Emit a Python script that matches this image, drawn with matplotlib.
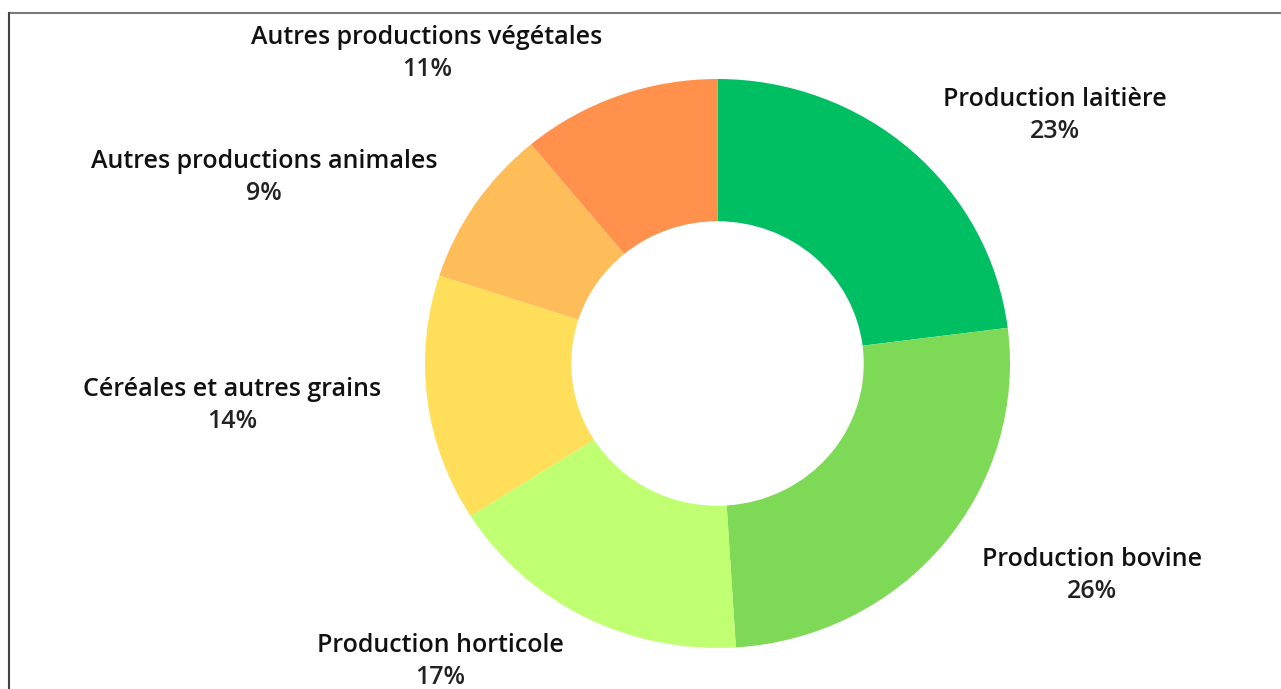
import matplotlib
matplotlib.use("Agg")
import matplotlib.pyplot as plt
from matplotlib.lines import Line2D

categories = ["Production laitière", "Production bovine", "Production horticole",
              "Céréales et autres grains", "Autres productions animales",
              "Autres productions végétales"]
values = [23, 26, 17, 14, 9, 11]
colors = ["#00BF63", "#7ED957", "#C1FF72", "#FFDE59", "#FFBD59", "#FF914D"]

# label centres in pixel coords (x, y from top)
label_pos = [(1055, 100), (1092, 560), (440, 645), (232, 390), (264, 162), (427, 37)]

W, H = 1281, 689
fig = plt.figure(figsize=(W / 100, H / 100), dpi=100)
fig.patch.set_facecolor("white")

# pie axes (slightly elliptical like reference)
left, right, top, bottom = 425, 1010, 79, 648
ax = fig.add_axes([left / W, (H - bottom) / H, (right - left) / W, (bottom - top) / H])
ax.pie(values, colors=colors, startangle=90, counterclock=False,
       wedgeprops=dict(width=0.5, edgecolor="none"), radius=1.0)
ax.set_aspect("auto")
ax.set_xlim(-1, 1)
ax.set_ylim(-1, 1)
ax.axis("off")

fam = ["Open Sans", "DejaVu Sans"]
for cat, v, (x, y) in zip(categories, values, label_pos):
    fig.text(x / W, 1 - y / H, cat, ha="center", va="center", fontsize=18,
             family=fam, weight="semibold", color="#111111")
    fig.text(x / W, 1 - (y + 32) / H, f"{v}%", ha="center", va="center", fontsize=18,
             family=fam, weight="semibold", color="#222222")

# frame lines (top and left)
fig.add_artist(Line2D([8.5 / W, 1], [1 - 12.5 / H, 1 - 12.5 / H], color="#7a7a7a", lw=1.5,
                      transform=fig.transFigure))
fig.add_artist(Line2D([8.5 / W, 8.5 / W], [0, 1 - 12.5 / H], color="#444444", lw=1.5,
                      transform=fig.transFigure))

fig.savefig("out.png", dpi=100, facecolor="white")
